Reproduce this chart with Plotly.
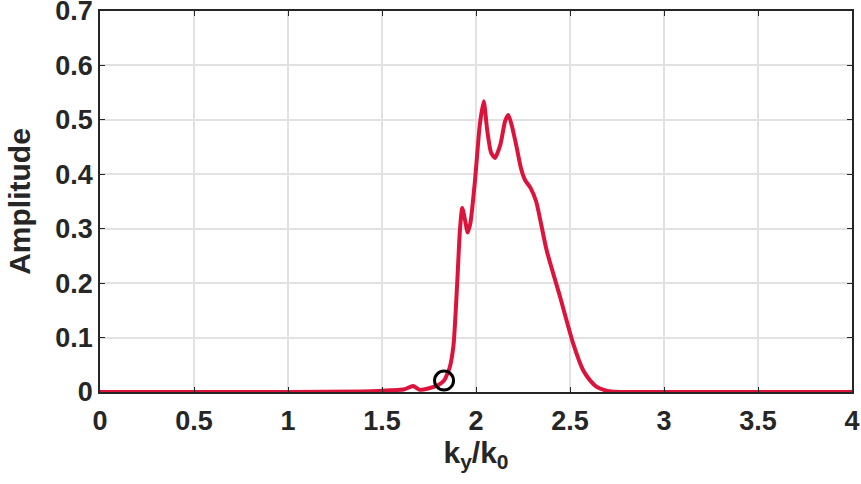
import plotly.graph_objects as go

ky = [0, 0.5, 1.0, 1.4, 1.55, 1.62, 1.665, 1.70, 1.75, 1.80, 1.83, 1.86, 1.88, 1.90, 1.915,
      1.927, 1.945, 1.955, 1.97, 1.995, 2.02, 2.041, 2.06, 2.08, 2.101, 2.13, 2.155, 2.172,
      2.19, 2.216, 2.24, 2.26, 2.29, 2.32, 2.376, 2.447, 2.517, 2.57, 2.61, 2.64, 2.68, 2.72,
      2.8, 3.0, 3.5, 4.0]
amp = [0, 0, 0, 0.001, 0.003, 0.005, 0.011, 0.004, 0.007, 0.013, 0.021, 0.045, 0.085, 0.2, 0.30,
       0.338, 0.31, 0.293, 0.31, 0.39, 0.49, 0.534, 0.48, 0.44, 0.43, 0.455, 0.498, 0.509,
       0.49, 0.45, 0.41, 0.39, 0.375, 0.35, 0.26, 0.175, 0.089, 0.04, 0.02, 0.01, 0.004, 0.001,
       0, 0, 0, 0]
marker_x = [1.83]
marker_y = [0.021]

x_ticks = [0, 0.5, 1, 1.5, 2, 2.5, 3, 3.5, 4]
y_ticks = [0, 0.1, 0.2, 0.3, 0.4, 0.5, 0.6, 0.7]

fig = go.Figure()
fig.add_trace(go.Scatter(x=ky, y=amp, mode="lines",
                         line=dict(color="#DC143C", width=4, shape="spline", smoothing=0.6),
                         showlegend=False))
fig.add_trace(go.Scatter(x=marker_x, y=marker_y, mode="markers",
                         marker=dict(symbol="circle-open", size=19, color="black",
                                     line=dict(width=3, color="black")),
                         showlegend=False))

FAM = "Liberation Sans, Arial, sans-serif"
axis_common = dict(showline=True, linecolor="#262626", linewidth=1.5, mirror="ticks",
                   ticks="inside", ticklen=5, tickcolor="#262626", tickwidth=1,
                   showgrid=True, gridcolor="#e2e2e2", gridwidth=1.5, zeroline=False,
                   ticklabeloverflow="allow",
                   tickfont=dict(family=FAM, size=27, color="#262626", weight="bold"))

fig.update_layout(
    width=861, height=484,
    margin=dict(l=100, r=9, t=11, b=92),
    paper_bgcolor="white", plot_bgcolor="white",
    font=dict(family=FAM, size=27, color="#262626"),
    xaxis=dict(range=[0, 4], tickvals=x_ticks, ticktext=[f"{v:g}" for v in x_ticks],
               ticklabelstandoff=4, automargin=False,
               title=dict(text="k<sub>y</sub>/k<sub>0</sub>",
                          font=dict(family=FAM, size=30, color="#262626", weight="bold"),
                          standoff=4),
               **axis_common),
    yaxis=dict(range=[0, 0.7], tickvals=y_ticks, ticktext=[f"{v:g}" for v in y_ticks],
               automargin="left",
               title=dict(text="Amplitude",
                          font=dict(family=FAM, size=30, color="#262626", weight="bold"),
                          standoff=16),
               **axis_common),
)

fig.write_html("out.html")
